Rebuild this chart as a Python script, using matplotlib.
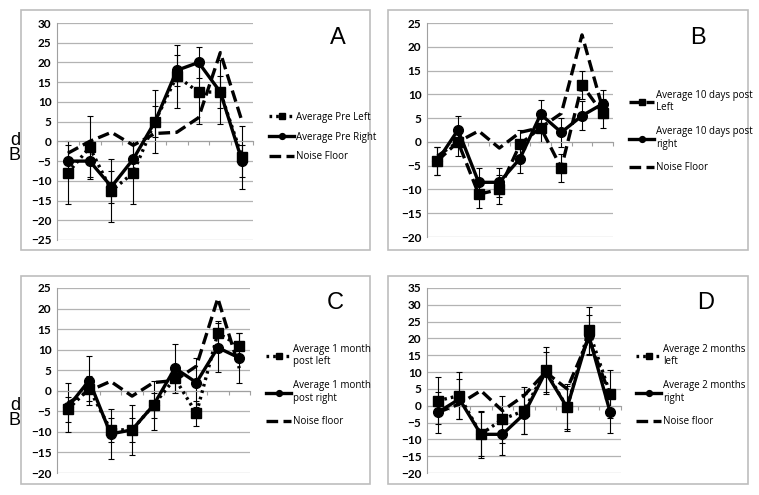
import matplotlib
matplotlib.use("Agg")
import matplotlib.pyplot as plt
from matplotlib.patches import Rectangle

W, H = 759, 495

# category positions (9 stimuli, no labels shown)
xs = list(range(9))

# panel A
a_left = [-8, -1.5, -12.5, -8, 5, 16.5, 12.5, 12.5, -4]
a_right = [-5, -5, -11.5, -4.5, 5, 18, 20, 12.5, -5]
a_noise = [-3, 0, 2.3, -1, 2, 2.3, 6, 22.5, 5]
a_left_err = [8] * 9
a_right_err = [4] * 9

# panel B
b_left = [-4, 0, -11, -10, -0.5, 3, -5.5, 12, 6]
b_right = [-4, 2.5, -8.5, -8.5, -3.5, 5.8, 2, 5.5, 8]
b_noise = [-3, 0, 2.3, -1.3, 2, 3, 6, 22.5, 7]
b_left_err = [3] * 9
b_right_err = [3] * 9

# panel C
c_left = [-4.5, 0.5, -9.5, -9.5, -3.5, 3, -5.5, 14, 11]
c_right = [-4, 2.5, -10.5, -9.5, -3.5, 5.5, 2, 10.5, 8]
c_noise = [-3, 0, 2.3, -1.3, 2, 2.5, 6, 22.5, 5.5]
c_left_err = [3] * 9
c_right_err = [6] * 9

# panel D
d_left = [1.5, 3, -8.5, -4, -1.5, 10.5, -0.5, 22.5, 3.5]
d_right = [-2, 2, -8.5, -8.5, -2.5, 10, -0.5, 21, -2]
d_noise = [-2, 0.5, 4.5, -1.5, 3, 10, 5, 20, 3]
d_left_err = [7] * 9
d_right_err = [6, 6, 6.5, 6, 6, 6, 6.5, 6, 6]

fig = plt.figure(figsize=(W / 100, H / 100), dpi=100)

def px(x0, y0, x1, y1):
    # pixel box -> figure fraction
    return [x0 / W, 1 - y1 / H, (x1 - x0) / W, (y1 - y0) / H]

def frame(x0, y0, x1, y1):
    fig.patches.append(Rectangle((x0 / W, 1 - y1 / H), (x1 - x0) / W, (y1 - y0) / H,
                                 transform=fig.transFigure, fill=False,
                                 edgecolor='#bdbdbd', lw=1.2))

def panel(box, ylim, step, left, right, noise, lerr, rerr, left_style,
          labels, letter, leg_pos, dB=False):
    ax = fig.add_axes(px(*box))
    ax.set_xlim(-0.5, 8.5)
    ax.set_ylim(*ylim)
    ax.set_yticks(range(ylim[0], ylim[1] + 1, step))
    ax.yaxis.grid(True, color='#b3b3b3', lw=0.9)
    ax.set_axisbelow(True)
    for s in ['top', 'right']:
        ax.spines[s].set_visible(False)
    ax.spines['left'].set_color('#a0a0a0')
    ax.spines['bottom'].set_position(('data', 0))
    ax.spines['bottom'].set_color('#a0a0a0')
    ax.set_xticks([i - 0.5 for i in range(10)])
    ax.set_xticklabels([])
    ax.tick_params(axis='x', length=3, color='#a0a0a0', direction='out')
    ax.tick_params(axis='y', length=0, pad=4)
    for t in ax.get_yticklabels():
        t.set_fontfamily('Lato')
        t.set_fontweight('bold')
        t.set_fontsize(8.5)

    ax.errorbar(xs, left, yerr=lerr, fmt='none', ecolor='black', elinewidth=0.8,
                capsize=2, capthick=0.8, zorder=2)
    ax.errorbar(xs, right, yerr=rerr, fmt='none', ecolor='black', elinewidth=0.8,
                capsize=2, capthick=0.8, zorder=2)
    if left_style == 'dash':
        l1, = ax.plot(xs, left, color='black', lw=2.4, marker='s', ms=7,
                      dashes=(3.5, 1.6), zorder=3)
    else:
        l1, = ax.plot(xs, left, color='black', lw=2.4, marker='s', ms=7,
                      linestyle=(0, (0.8, 1.2)), zorder=3)
    l2, = ax.plot(xs, right, color='black', lw=2.4, marker='o', ms=7, zorder=4)
    l3, = ax.plot(xs, noise, color='black', lw=2.4, dashes=(3.5, 1.6), zorder=3)

    multi = '\n' in labels[0]
    fig.legend([l1, l2, l3], labels, loc='upper left',
               bbox_to_anchor=(leg_pos[0] / W, 1 - leg_pos[1] / H),
               frameon=False, handlelength=2.6, handletextpad=0.2,
               markerscale=0.6,
               labelspacing=1.3 if multi else 0.9,
               prop={'family': 'Open Sans', 'size': 7}, borderaxespad=0)
    fig.text((box[2] + 85) / W, 1 - (box[1] + 15) / H, letter,
             fontsize=17, family='Liberation Sans', ha='center', va='center')
    if dB:
        fig.text(15 / W, 1 - (box[1] + 125) / H, 'd\nB', fontsize=13,
                 family='Liberation Sans', ha='center', va='center',
                 linespacing=0.9)
    return ax

frame(21, 10, 370, 250)
frame(388, 10, 748, 250)
frame(21, 276, 370, 484)
frame(388, 276, 748, 484)

panel((57, 23, 253, 240), (-25, 30), 5, a_left, a_right, a_noise,
      a_left_err, a_right_err, 'dot',
      ['Average Pre Left', 'Average Pre Right', 'Noise Floor'], 'A',
      (265, 108), dB=True)
panel((427, 23, 613, 237), (-20, 25), 5, b_left, b_right, b_noise,
      b_left_err, b_right_err, 'dash',
      ['Average 10 days post\nLeft', 'Average 10 days post\nright', 'Noise Floor'],
      'B', (625, 86))
panel((57, 288, 250, 473), (-20, 25), 5, c_left, c_right, c_noise,
      c_left_err, c_right_err, 'dot',
      ['Average 1 month\npost left', 'Average 1 month\npost right', 'Noise floor'],
      'C', (262, 340), dB=True)
panel((427, 288, 621, 473), (-20, 35), 5, d_left, d_right, d_noise,
      d_left_err, d_right_err, 'dot',
      ['Average 2 months\nleft', 'Average 2 months\nright', 'Noise floor'],
      'D', (632, 340))

fig.savefig('out.png', dpi=100)
